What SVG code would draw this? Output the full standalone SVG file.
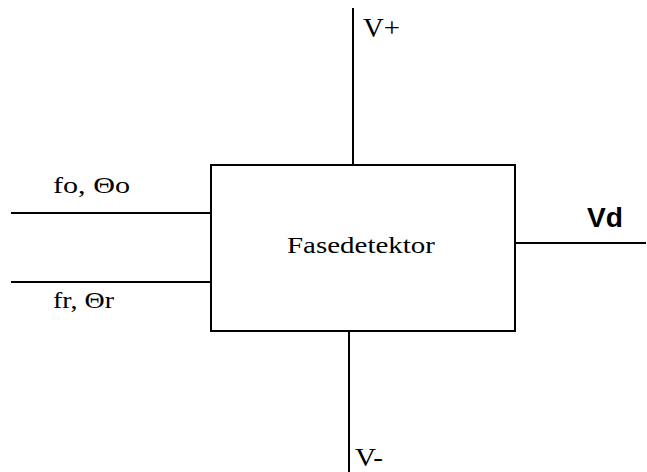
<svg xmlns="http://www.w3.org/2000/svg" width="647" height="472" viewBox="0 0 647 472">
<style>
.ln{stroke:#000;stroke-width:2;fill:none}
.t{font-family:"Liberation Serif","Times New Roman",serif;fill:#000}
.b{font-family:"Liberation Sans",Arial,sans-serif;font-weight:bold;fill:#000}
</style>
<rect width="647" height="472" fill="#fff"/>
<g id="connectors">
<line class="ln" x1="353" y1="8" x2="353" y2="165"/>
<line class="ln" x1="349" y1="331" x2="349" y2="472"/>
<line class="ln" x1="11" y1="213" x2="211" y2="213"/>
<line class="ln" x1="11" y1="282" x2="211" y2="282"/>
<line class="ln" x1="515" y1="243" x2="646" y2="243"/>
</g>
<g id="fasedetektor">
<rect class="ln" x="211" y="165" width="304" height="166"/>
<text class="t" x="287" y="253" font-size="23" textLength="148" lengthAdjust="spacingAndGlyphs">Fasedetektor</text>
</g>
<g id="labels">
<text class="t" x="53" y="193" font-size="23" textLength="77" lengthAdjust="spacingAndGlyphs">fo, Θo</text>
<text class="t" x="53" y="308" font-size="23" textLength="61" lengthAdjust="spacingAndGlyphs">fr, Θr</text>
<text class="t" x="363" y="37" font-size="27" textLength="37" lengthAdjust="spacingAndGlyphs">V+</text>
<text class="t" x="355" y="466" font-size="25" textLength="28" lengthAdjust="spacingAndGlyphs">V-</text>
<text class="b" x="587" y="227" font-size="28" textLength="36" lengthAdjust="spacingAndGlyphs">Vd</text>
</g>
</svg>
